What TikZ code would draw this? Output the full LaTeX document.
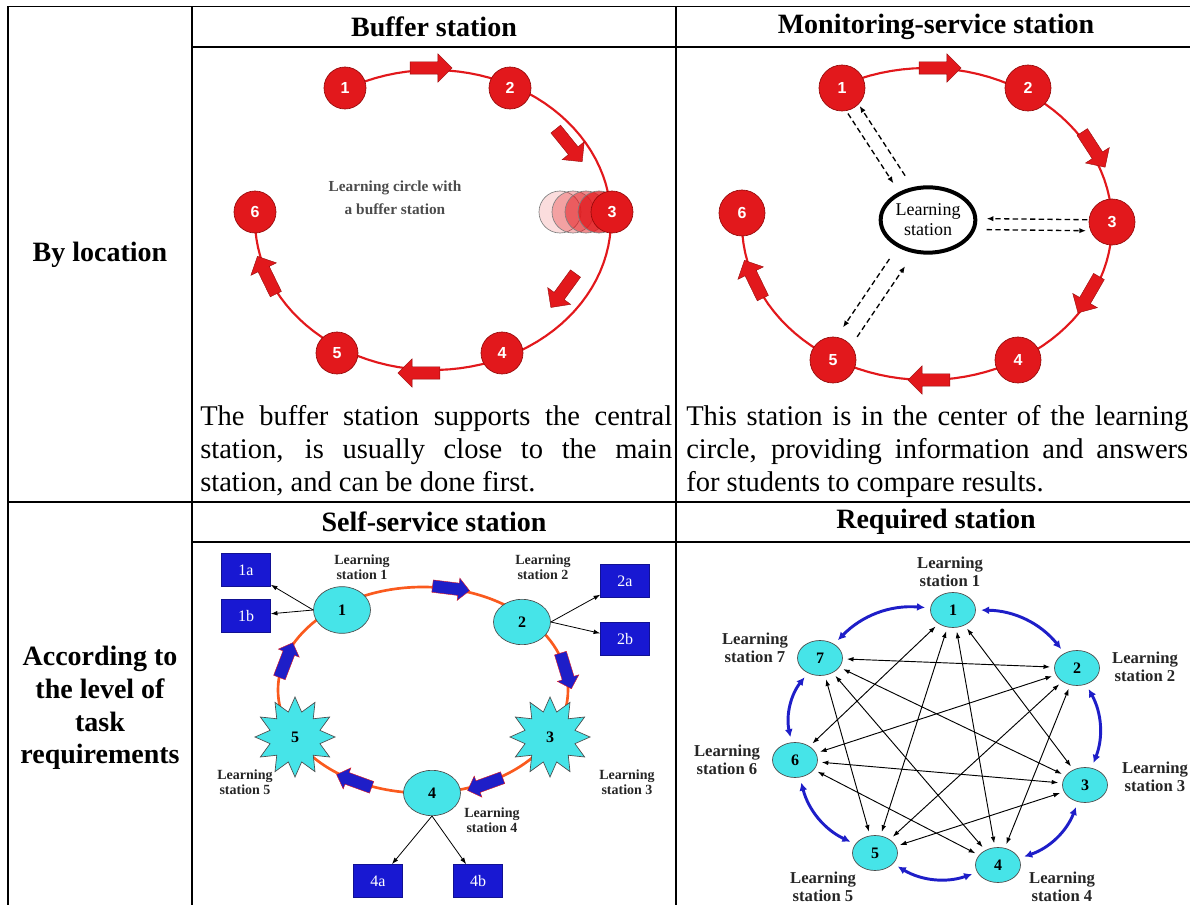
\documentclass[tikz,border=0pt]{standalone}
\usepackage{fontspec}
\setmainfont{Liberation Serif}
\newfontfamily\numfont{Liberation Sans}
\usetikzlibrary{positioning, arrows.meta, shapes.geometric, shapes.arrows}
\definecolor{ringred}{RGB}{226,24,28}
\definecolor{darkred}{RGB}{150,10,10}
\definecolor{stcyan}{RGB}{70,228,232}
\definecolor{boxblue}{RGB}{24,24,210}
\definecolor{arrblue}{RGB}{30,30,200}
\definecolor{ringorange}{RGB}{250,90,30}

\begin{document}
\begin{tikzpicture}[x=0.75pt, y=-0.75pt, font=\fontsize{21}{25}\selectfont,
    grid/.style={line width=1.3pt, line cap=rect},
    headtext/.style={font=\fontsize{21}{25}\selectfont\bfseries},
    bodytext/.style={font={\fontsize{21.4}{24.75}\selectfont\hyphenpenalty=10000}, align=justify, inner sep=0pt, anchor=north west},
    redst/.style={circle, draw=darkred, fill=ringred, line width=0.5pt, inner sep=0pt, text=white, font=\numfont\bfseries\fontsize{12}{12}\selectfont},
    ghost/.style={circle, draw=gray, fill=ringred, line width=0.5pt, inner sep=0pt, minimum size=31.5pt},
    ringline/.style={draw=ringred, line width=1.6pt},
    redarr/.style={single arrow, draw=darkred, fill=ringred, line width=0.3pt, inner xsep=0pt, inner ysep=4.5pt, minimum height=31.5pt, single arrow head extend=6pt},
    dasharr/.style={dash pattern=on 4pt off 2.5pt, line width=1pt, -{Latex[length=5pt,width=4pt]}},
    cynode/.style={ellipse, draw=black!70, fill=stcyan, line width=0.5pt, inner sep=0pt, font=\bfseries\fontsize{12}{12}\selectfont},
    starnode/.style={star, star points=12, star point ratio=1.55, draw=black!70, fill=stcyan, line width=0.5pt, inner sep=0pt, minimum size=60pt, font=\bfseries\fontsize{12}{12}\selectfont},
    bluebox/.style={rectangle, fill=boxblue, draw=boxblue!70!black, minimum width=36.75pt, minimum height=24.75pt, text=white, font=\fontsize{12}{12}\selectfont},
    bluearr/.style={single arrow, draw=ringred, fill=arrblue, line width=0.3pt, inner xsep=0pt, inner ysep=4.5pt, minimum height=28pt, single arrow head extend=3.75pt},
    stlabel/.style={align=center, font=\bfseries\fontsize{10.5}{11.5}\selectfont, text=black!85},
    thinarr/.style={line width=0.6pt, -{Latex[length=5pt,width=3.5pt]}},
    twoway/.style={line width=0.7pt, {Latex[length=5pt,width=3.5pt]}-{Latex[length=5pt,width=3.5pt]}, shorten <=3pt, shorten >=3pt},
    bluebend/.style={draw=arrblue, line width=2.2pt, {Latex[length=6pt,width=6pt]}-{Latex[length=6pt,width=6pt]}, shorten <=4pt, shorten >=4pt}]
  \useasboundingbox (0,0) rectangle (1190,905);

  % table frame
  \draw[grid] (1190,6.5) -- (8,6.5) -- (8,905);
  \draw[grid] (192,6.5) -- (192,905);
  \draw[grid] (676,6.5) -- (676,905);
  \draw[grid] (192,47) -- (1190,47);
  \draw[grid] (8,502) -- (1190,502);
  \draw[grid] (192,542) -- (1190,542);

  % headings
  \node[headtext] (hbuf) at (434,27) {Buffer station};
  \node[headtext] (hmon) at (936,27) {Monitoring-service station};
  \node[headtext] (hself) at (434,522) {Self-service station};
  \node[headtext] (hreq) at (936,522) {Required station};
  \node[headtext] (byloc) at (100,255) {By location};
  \node[headtext, align=center, font=\fontsize{21}{24.5}\selectfont\bfseries] (bylevel) at (100,708) {According to\\the level of\\task\\requirements};

  % texts under the circles
  \node[bodytext, text width=354pt] (txtbuf) at (200,405) {The buffer station supports the central station, is usually close to the main station, and can be done first.};
  \node[bodytext, text width=376.5pt] (txtmon) at (686,405) {This station is in the center of the learning circle, providing information and answers for students to compare results.};

  % buffer station circle
  \draw[ringline] plot[domain=-183:119, samples=90] ({433+178*cos(\x)},{220-150*sin(\x)});
  \node[redarr, rotate=0] (ba1) at (428,68) {};
  \node[redarr, rotate=-51] (ba2) at (567,143) {};
  \node[redarr, rotate=-126] (ba3) at (565,288) {};
  \node[redarr, rotate=180] (ba4) at (422,373) {};
  \node[redarr, rotate=116] (ba5) at (268,278) {};
  \node[redst, minimum size=31.5pt] (b1) at (345,88) {1};
  \node[redst, minimum size=31.5pt] (b2) at (510,88) {2};
  \foreach \k/\o in {4/0.15,3/0.3,2/0.5,1/0.75}
    \node[ghost, fill opacity=\o] (g\k) at ({612-13*\k},212) {};
  \node[redst, minimum size=31.5pt] (b3) at (612,212) {3};
  \node[redst, minimum size=31.5pt] (b4) at (502,353) {4};
  \node[redst, minimum size=31.5pt] (b5) at (337,353) {5};
  \node[redst, minimum size=31.5pt] (b6) at (255,212) {6};
  \node[align=center, text=black!70, font=\bfseries\fontsize{11.5}{17}\selectfont] (circtxt) at (395,198) {Learning circle with\\a buffer station};

  % monitoring-service station circle
  \draw[ringline] plot[domain=-183:118, samples=90] ({927+185*cos(\x)},{224-156*sin(\x)});
  \node[redarr, rotate=0] (ma1) at (937,68) {};
  \node[redarr, rotate=-57] (ma2) at (1092,147) {};
  \node[redarr, rotate=-120] (ma3) at (1090,292) {};
  \node[redarr, rotate=180] (ma4) at (932,380) {};
  \node[redarr, rotate=116] (ma5) at (755,282) {};
  \node[redst, minimum size=34.5pt] (m1) at (842,88) {1};
  \node[redst, minimum size=34.5pt] (m2) at (1028,88) {2};
  \node[redst, minimum size=34.5pt] (m3) at (1112,222) {3};
  \node[redst, minimum size=34.5pt] (m4) at (1018,360) {4};
  \node[redst, minimum size=34.5pt] (m5) at (833,360) {5};
  \node[redst, minimum size=34.5pt] (m6) at (742,213) {6};
  \node[ellipse, draw, line width=3pt, minimum width=71pt, minimum height=49pt, inner sep=0pt, align=center, font=\fontsize{13.5}{15}\selectfont] (ls) at (928,220) {Learning\\station};
  \draw[dasharr, shorten >=9pt, shorten <=1pt, transform canvas={shift={(-7.5,4.9)}}] (m1) -- (ls);
  \draw[dasharr, shorten <=9pt, shorten >=1pt, transform canvas={shift={(4.2,-2.7)}}] (ls) -- (m1);
  \draw[dasharr, shorten >=7pt, shorten <=1pt, transform canvas={shift={(0,-2)}}] (m3) -- (ls);
  \draw[dasharr, shorten <=7pt, shorten >=2pt, transform canvas={shift={(0,9)}}] (ls) -- (m3);
  \draw[dasharr, shorten <=12pt, shorten >=7pt, transform canvas={shift={(-8.3,-5.6)}}] (ls) -- (m5);
  \draw[dasharr, shorten <=7pt, shorten >=10pt, transform canvas={shift={(5.8,3.9)}}] (m5) -- (ls);

  % self-service station circle
  \draw[draw=ringorange, line width=2pt] (423,690) ellipse [x radius=145, y radius=103];
  \node[bluearr, rotate=-7] (sa1) at (448,588) {};
  \node[bluearr, rotate=-73] (sa2) at (565,668) {};
  \node[bluearr, rotate=-160] (sa3) at (488,783) {};
  \node[bluearr, rotate=160] (sa4) at (357,782) {};
  \node[bluearr, rotate=69] (sa5) at (285,663) {};
  \node[cynode, minimum width=42.75pt, minimum height=35pt] (s1) at (342,610) {1};
  \node[cynode, minimum width=42.75pt, minimum height=34pt] (s2) at (522,622) {2};
  \node[starnode] (s3) at (550,737) {3};
  \node[cynode, minimum width=42.75pt, minimum height=34pt] (s4) at (432,793) {4};
  \node[starnode] (s5) at (295,737) {5};
  \node[bluebox] (x1a) at (246,570) {1a};
  \node[bluebox] (x1b) at (246,616) {1b};
  \node[bluebox] (x2a) at (625,581) {2a};
  \node[bluebox] (x2b) at (625,639) {2b};
  \node[bluebox] (x4a) at (378,881) {4a};
  \node[bluebox] (x4b) at (478,881) {4b};
  \draw[thinarr] (s1.west) -- (x1a);
  \draw[thinarr] (s1.west) -- (x1b);
  \draw[thinarr] (s2.east) -- (x2a);
  \draw[thinarr] (s2.east) -- (x2b);
  \draw[thinarr] (s4.south) -- (x4a);
  \draw[thinarr] (s4.south) -- (x4b);
  \node[stlabel] (t1) at (362,567) {Learning\\station 1};
  \node[stlabel] (t2) at (543,567) {Learning\\station 2};
  \node[stlabel] (t3) at (627,782) {Learning\\station 3};
  \node[stlabel] (t4) at (492,820) {Learning\\station 4};
  \node[stlabel] (t5) at (245,782) {Learning\\station 5};

  % required station network
  \foreach \n/\x/\y in {1/953/610,2/1077/668,3/1085/785,4/998/865,5/875/853,6/795/760,7/820/658}
    \node[cynode, minimum width=33.75pt, minimum height=26.25pt] (r\n) at (\x,\y) {\n};
  \foreach \a/\b in {1/6,1/5,1/4,1/3,7/2,7/3,7/4,7/5,2/6,2/5,2/4,6/3,6/4,3/5}
    \draw[twoway] (r\a) -- (r\b);
  \foreach \a/\b in {1/2,2/3,3/4,4/5,5/6,6/7,7/1}
    \draw[bluebend] (r\a) to[bend left=25] (r\b);
  \node[stlabel, font=\bfseries\fontsize{12.5}{13.75}\selectfont] (q1) at (950,572) {Learning\\station 1};
  \node[stlabel, font=\bfseries\fontsize{12.5}{13.75}\selectfont] (q2) at (1145,667) {Learning\\station 2};
  \node[stlabel, font=\bfseries\fontsize{12.5}{13.75}\selectfont] (q3) at (1155,777) {Learning\\station 3};
  \node[stlabel, font=\bfseries\fontsize{12.5}{13.75}\selectfont] (q4) at (1062,887) {Learning\\station 4};
  \node[stlabel, font=\bfseries\fontsize{12.5}{13.75}\selectfont] (q5) at (823,887) {Learning\\station 5};
  \node[stlabel, font=\bfseries\fontsize{12.5}{13.75}\selectfont] (q6) at (727,760) {Learning\\station 6};
  \node[stlabel, font=\bfseries\fontsize{12.5}{13.75}\selectfont] (q7) at (755,648) {Learning\\station 7};
\end{tikzpicture}
\end{document}
